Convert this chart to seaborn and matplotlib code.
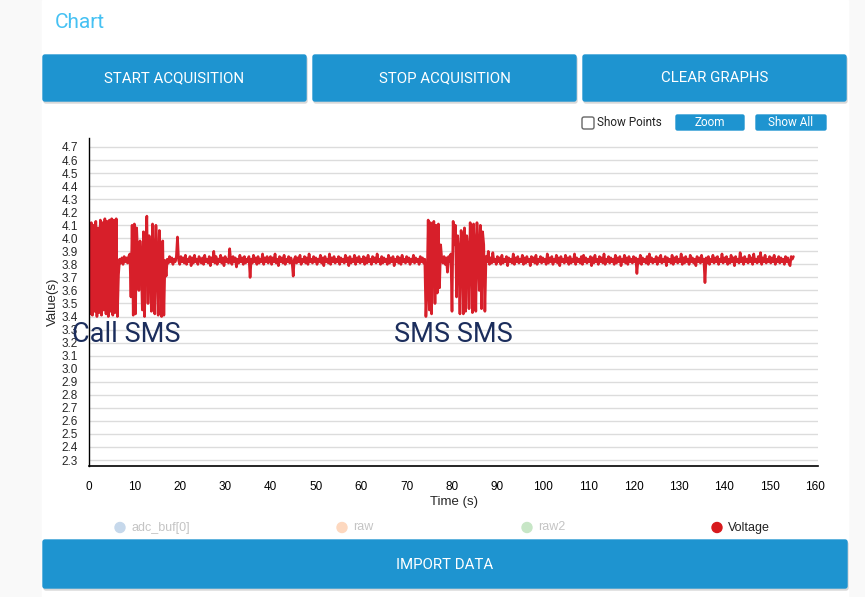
import numpy as np
import matplotlib
matplotlib.use("Agg")
import matplotlib.pyplot as plt
from matplotlib.patches import Rectangle, FancyBboxPatch, Circle
import seaborn as sns

# %% Data (one sample every 0.25 s, 20 per row = 5 s)
voltage = [
    4.02, 3.42, 4.12, 3.41, 4.10, 3.44, 4.13, 3.40, 4.08, 3.43, 4.14, 3.41, 4.12, 3.45, 4.15, 3.42, 4.13, 3.40, 4.14, 3.44,
    4.15, 3.41, 4.14, 3.43, 4.15, 3.40, 3.72, 3.84, 3.81, 3.85, 3.80, 3.86, 3.82, 3.85, 3.81, 3.86, 3.88, 3.55, 4.10, 3.41,
    4.11, 3.42, 4.08, 3.86, 3.60, 3.98, 3.82, 3.45, 4.05, 3.40, 3.95, 4.17, 3.50, 4.02, 3.84, 3.44, 4.11, 3.88, 3.42, 4.10,
    3.85, 3.41, 4.06, 3.86, 3.40, 3.98, 3.41, 3.83, 3.71, 3.84, 3.81, 3.86, 3.82, 3.85, 3.80, 3.84, 3.82, 3.86, 4.01, 3.83,
    3.80, 3.86, 3.82, 3.85, 3.81, 3.87, 3.80, 3.84, 3.82, 3.86, 3.79, 3.85, 3.81, 3.87, 3.82, 3.84, 3.80, 3.86, 3.83, 3.81,
    3.85, 3.80, 3.87, 3.82, 3.84, 3.81, 3.86, 3.79, 3.85, 3.82, 3.90, 3.81, 3.86, 3.80, 3.84, 3.82, 3.87, 3.81, 3.85, 3.79,
    3.86, 3.82, 3.84, 3.81, 3.92, 3.83, 3.80, 3.86, 3.82, 3.85, 3.78, 3.84, 3.81, 3.87, 3.82, 3.85, 3.80, 3.86, 3.81, 3.84,
    3.82, 3.86, 3.70, 3.84, 3.81, 3.87, 3.82, 3.85, 3.80, 3.86, 3.81, 3.84, 3.82, 3.88, 3.80, 3.85, 3.82, 3.86, 3.81, 3.84,
    3.86, 3.80, 3.85, 3.82, 3.88, 3.81, 3.84, 3.79, 3.86, 3.82, 3.85, 3.81, 3.87, 3.80, 3.84, 3.82, 3.86, 3.81, 3.85, 3.82,
    3.71, 3.84, 3.86, 3.81, 3.85, 3.82, 3.87, 3.80, 3.84, 3.82, 3.86, 3.81, 3.85, 3.80, 3.88, 3.82, 3.84, 3.81, 3.86, 3.82,
    3.85, 3.80, 3.84, 3.82, 3.87, 3.81, 3.85, 3.79, 3.86, 3.82, 3.84, 3.81, 3.88, 3.80, 3.85, 3.82, 3.86, 3.81, 3.84, 3.82,
    3.86, 3.80, 3.85, 3.82, 3.84, 3.81, 3.87, 3.82, 3.85, 3.79, 3.86, 3.81, 3.84, 3.82, 3.87, 3.80, 3.85, 3.82, 3.86, 3.81,
    3.84, 3.82, 3.86, 3.80, 3.85, 3.81, 3.87, 3.82, 3.84, 3.80, 3.86, 3.82, 3.85, 3.81, 3.88, 3.82, 3.84, 3.80, 3.86, 3.81,
    3.85, 3.82, 3.84, 3.80, 3.87, 3.81, 3.85, 3.82, 3.86, 3.79, 3.84, 3.82, 3.86, 3.81, 3.85, 3.80, 3.87, 3.82, 3.84, 3.81,
    3.86, 3.82, 3.85, 3.80, 3.84, 3.82, 3.87, 3.81, 3.85, 3.82, 3.84, 3.80, 3.86, 3.82, 3.85, 3.81, 3.84, 3.40, 3.62, 4.14,
    3.45, 4.12, 3.42, 3.95, 4.13, 3.50, 4.10, 3.58, 4.11, 3.62, 3.95, 3.84, 3.81, 3.86, 3.80, 3.85, 3.74, 3.86, 3.82, 3.88,
    3.44, 4.13, 3.95, 4.10, 3.55, 4.02, 3.90, 3.42, 4.06, 3.98, 3.42, 4.08, 3.44, 4.02, 3.92, 3.46, 4.12, 3.95, 3.43, 4.11,
    3.95, 3.44, 4.12, 3.90, 3.60, 4.10, 3.46, 4.05, 3.95, 3.44, 3.86, 3.82, 3.90, 3.80, 3.85, 3.81, 3.89, 3.82, 3.84, 3.80,
    3.86, 3.82, 3.85, 3.80, 3.87, 3.81, 3.84, 3.82, 3.86, 3.79, 3.85, 3.82, 3.84, 3.81, 3.88, 3.80, 3.85, 3.82, 3.86, 3.81,
    3.84, 3.82, 3.87, 3.80, 3.85, 3.81, 3.86, 3.82, 3.84, 3.79, 3.86, 3.82, 3.85, 3.81, 3.87, 3.80, 3.84, 3.82, 3.86, 3.81,
    3.85, 3.82, 3.84, 3.80, 3.88, 3.81, 3.85, 3.82, 3.86, 3.80, 3.84, 3.82, 3.87, 3.81, 3.85, 3.79, 3.86, 3.82, 3.84, 3.81,
    3.87, 3.82, 3.85, 3.80, 3.86, 3.81, 3.84, 3.82, 3.88, 3.80, 3.85, 3.82, 3.84, 3.81, 3.86, 3.80, 3.87, 3.82, 3.85, 3.81,
    3.84, 3.82, 3.86, 3.79, 3.85, 3.81, 3.87, 3.82, 3.84, 3.80, 3.86, 3.82, 3.85, 3.81, 3.88, 3.80, 3.84, 3.82, 3.86, 3.81,
    3.85, 3.82, 3.84, 3.80, 3.87, 3.81, 3.85, 3.82, 3.86, 3.79, 3.84, 3.82, 3.87, 3.81, 3.85, 3.80, 3.86, 3.82, 3.84, 3.81,
    3.86, 3.82, 3.85, 3.73, 3.84, 3.81, 3.87, 3.80, 3.85, 3.82, 3.84, 3.81, 3.86, 3.80, 3.88, 3.82, 3.85, 3.81, 3.84, 3.82,
    3.86, 3.80, 3.85, 3.82, 3.87, 3.81, 3.84, 3.82, 3.86, 3.79, 3.85, 3.82, 3.84, 3.81, 3.87, 3.80, 3.85, 3.82, 3.86, 3.81,
    3.84, 3.82, 3.88, 3.80, 3.85, 3.81, 3.86, 3.82, 3.84, 3.80, 3.87, 3.82, 3.85, 3.81, 3.84, 3.79, 3.86, 3.82, 3.85, 3.81,
    3.87, 3.82, 3.84, 3.66, 3.85, 3.81, 3.86, 3.80, 3.84, 3.82, 3.87, 3.81, 3.85, 3.82, 3.86, 3.80, 3.84, 3.82, 3.88, 3.81,
    3.85, 3.82, 3.86, 3.80, 3.84, 3.81, 3.87, 3.82, 3.85, 3.79, 3.86, 3.82, 3.84, 3.81, 3.89, 3.82, 3.85, 3.80, 3.86, 3.82,
    3.84, 3.81, 3.87, 3.82, 3.85, 3.80, 3.88, 3.82, 3.84, 3.81, 3.86, 3.82, 3.89, 3.80, 3.85, 3.82, 3.87, 3.81, 3.84, 3.82,
    3.86, 3.81, 3.85, 3.82, 3.87, 3.80, 3.84, 3.82, 3.86, 3.81, 3.85, 3.82, 3.84, 3.80, 3.86, 3.82, 3.85, 3.81, 3.79, 3.86,
    3.84, 3.86,
]
time_s = np.arange(len(voltage)) * 0.25

x_ticks = list(range(0, 161, 10))
y_ticks = [round(2.3 + 0.1 * i, 1) for i in range(25)]

events = ["Call SMS", "SMS SMS"]
event_t = [-3.8, 67.2]
event_v = [3.26, 3.26]

legend_names = ["adc_buf[0]", "raw", "raw2", "Voltage"]
legend_dots = ["#c6d8eb", "#fdd8bf", "#c7e6c6", "#d7191c"]
legend_text = ["#c4c4c4", "#c4c4c4", "#c4c4c4", "#222222"]

buttons = ["START ACQUISITION", "STOP ACQUISITION", "CLEAR GRAPHS"]

# %% Figure
sns.set_style("white")
plt.rcParams["font.family"] = ["Roboto", "DejaVu Sans"]
TICKFONT = ["Liberation Sans", "DejaVu Sans"]

W, H = 865, 597
fig = plt.figure(figsize=(W / 100, H / 100), dpi=100)
fig.patch.set_facecolor("#f9f9f9")

# page layer in pixel coordinates
ui = fig.add_axes([0, 0, 1, 1], zorder=0)
ui.set_xlim(0, W)
ui.set_ylim(H, 0)
ui.axis("off")

BLUE = "#1e94d0"
ui.add_patch(Rectangle((42, 0), 806, H, color="white", zorder=0))
ui.text(55, 22, "Chart", color="#45c1f3", fontsize=15, va="center", ha="left")

btn_x = [43, 313, 583]
for bx, label in zip(btn_x, buttons):
    ui.add_patch(FancyBboxPatch((bx + 1, 57), 263, 46, boxstyle="round,pad=0,rounding_size=2",
                                color="#d8d8d8", zorder=1))
    ui.add_patch(FancyBboxPatch((bx, 55), 263, 46, boxstyle="round,pad=0,rounding_size=2",
                                color=BLUE, zorder=2))
    ui.text(bx + 131.5, 78, label, color="white", fontsize=10.8, ha="center", va="center", zorder=3)

# show points / zoom / show all
ui.add_patch(FancyBboxPatch((582, 117), 12, 12, boxstyle="round,pad=0,rounding_size=2",
                            facecolor="white", edgecolor="#666666", lw=1, zorder=2))
ui.text(597, 123, "Show Points", fontsize=8.5, color="#222222", va="center", ha="left")
for bx, bw, label in [(676, 68, "Zoom"), (756, 70, "Show All")]:
    ui.add_patch(FancyBboxPatch((bx, 115), bw, 15, boxstyle="round,pad=0,rounding_size=1.5",
                                color=BLUE, zorder=2))
    ui.text(bx + bw / 2, 122.5, label, fontsize=8.5, color="white", ha="center", va="center",
            zorder=3)

# legend row
legend_x = [120, 342, 527, 717]
for lx, name, dot, tc in zip(legend_x, legend_names, legend_dots, legend_text):
    ui.add_patch(Circle((lx, 527.5), 5, color=dot, zorder=2))
    ui.text(lx + 11, 527.5, name, fontsize=9, color=tc, va="center", ha="left", family=TICKFONT)

# import button
ui.add_patch(FancyBboxPatch((44, 542), 804, 48, boxstyle="round,pad=0,rounding_size=2",
                            color="#d8d8d8", zorder=1))
ui.add_patch(FancyBboxPatch((43, 540), 804, 48, boxstyle="round,pad=0,rounding_size=2",
                            color=BLUE, zorder=2))
ui.text(445, 565, "IMPORT DATA", color="white", fontsize=10.8, ha="center", va="center", zorder=3)

# %% Chart
ax = fig.add_axes([89 / W, 131 / H, 729 / W, 328 / H], zorder=2)
ax.patch.set_alpha(0)
sns.lineplot(x=time_s, y=voltage, ax=ax, color="#d71f2a", lw=1.9, estimator=None, sort=False)

ax.set_xlim(0, 160.66)
ax.set_ylim(2.254, 4.769)
ax.set_xticks(x_ticks)
ax.set_yticks(y_ticks)
ax.set_yticklabels([f"{v:.1f}" for v in y_ticks])
ax.yaxis.grid(True, color="#dcdcdc", lw=1)
ax.set_axisbelow(True)
for s in ["top", "right"]:
    ax.spines[s].set_visible(False)
ax.spines["left"].set_color("black")
ax.spines["bottom"].set_color("black")
ax.spines["left"].set_linewidth(1)
ax.spines["bottom"].set_linewidth(1.2)
ax.tick_params(axis="x", direction="out", length=5, width=1, colors="black", pad=6, labelsize=8.5)
ax.tick_params(axis="y", length=0, pad=8, labelsize=8.5)
for lab in ax.get_xticklabels() + ax.get_yticklabels():
    lab.set_family(TICKFONT)
ax.set_xlabel("Time (s)", fontsize=9.5, labelpad=2, family=TICKFONT)
ax.set_ylabel("Value(s)", fontsize=9.5, labelpad=2, family=TICKFONT)

for label, tx, vy in zip(events, event_t, event_v):
    ax.text(tx, vy, label, fontsize=19.5, color="#1b2d5c", ha="left", va="center", clip_on=False)

fig.savefig("out.png", dpi=100)
